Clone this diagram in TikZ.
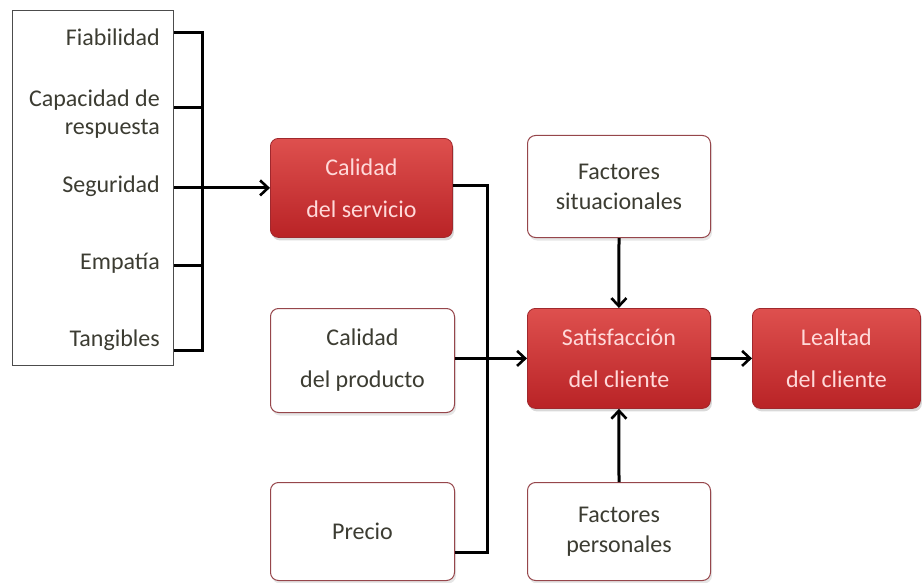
\documentclass[tikz,border=0pt]{standalone}
\usepackage{fontspec}
\setmainfont{Carlito}
\usetikzlibrary{arrows.meta,shadows}
\definecolor{redtop}{RGB}{222,80,78}
\definecolor{redbot}{RGB}{185,35,38}
\definecolor{rededge}{RGB}{160,40,45}
\definecolor{whiteedge}{RGB}{150,70,75}
\definecolor{txt}{RGB}{60,60,50}
\begin{document}
\begin{tikzpicture}[x=1pt,y=-1pt,
  redbox/.style={draw=rededge,line width=0.8pt,rounded corners=8pt,top color=redtop,bottom color=redbot,
    text=white!85!red,align=center,font=\fontsize{24}{42}\selectfont,inner sep=0pt,
    drop shadow={shadow xshift=1.5pt,shadow yshift=-3pt,opacity=0.3}},
  wbox/.style={draw=whiteedge,line width=1pt,rounded corners=8pt,fill=white,text=txt,align=center,
    font=\fontsize{24}{42}\selectfont,inner sep=0pt,
    drop shadow={shadow xshift=1.5pt,shadow yshift=-3pt,opacity=0.2}},
  lbl/.style={text=txt,anchor=east,font=\fontsize{24}{20}\selectfont,inner sep=0pt},
  conn/.style={line width=3pt,black},
  arr/.style={conn,-{Straight Barb[length=8pt,width=15pt,line width=2.6pt]}}]
\useasboundingbox (0,0) rectangle (923,583);
% left box
\node[draw=black!70,line width=1pt,minimum width=161pt,minimum height=355pt,anchor=north west,inner sep=0pt] (dims) at (12,10) {};
\node[lbl] (fia) at (160,37) {Fiabilidad};
\node[lbl] (cap) at (160,100) {Capacidad de};
\node[lbl] (res) at (160,129) {respuesta};
\node[lbl] (seg) at (160,186) {Seguridad};
\node[lbl] (emp) at (160,263) {Empatía};
\node[lbl] (tan) at (160,340) {Tangibles};
% boxes
\node[redbox,minimum width=182pt,minimum height=99pt,anchor=north west] (cs) at (270,138) {Calidad\\del servicio};
\node[wbox,minimum width=184pt,minimum height=104pt,anchor=north west] (cp) at (270,308) {Calidad\\del producto};
\node[wbox,minimum width=184pt,minimum height=98pt,anchor=north west] (pr) at (270,482) {Precio};
\node[wbox,minimum width=183pt,minimum height=102pt,anchor=north west,font=\fontsize{24}{30}\selectfont] (fs) at (527,135) {Factores\\situacionales};
\node[redbox,minimum width=183pt,minimum height=100pt,anchor=north west] (sat) at (527,308) {Satisfacción\\del cliente};
\node[wbox,minimum width=183pt,minimum height=98pt,anchor=north west,font=\fontsize{24}{30}\selectfont] (fp) at (527,482) {Factores\\personales};
\node[redbox,minimum width=168pt,minimum height=100pt,anchor=north west] (lea) at (752,308) {Lealtad\\del cliente};
% bracket
\coordinate (bt) at (202,33);
\coordinate (bb) at (202,350);
\draw[conn] (dims.east |- 0,33) -- (bt) -- (bb) -- (dims.east |- 0,350);
\draw[conn] (dims.east |- 0,108) -- (202,108);
\draw[conn] (dims.east |- 0,265) -- (202,265);
\draw[arr] (dims.east |- cs.west) -- (cs.west);
% right bracket
\coordinate (rt) at (487,185);
\coordinate (rb) at (487,552);
\draw[conn] (cs.east |- rt) -- (rt) -- (rb) -- (pr.east |- rb);
\draw[arr] (cp.east |- sat.west) -- (sat.west);
\draw[arr] (fs.south) -- (sat.north);
\draw[arr] (fp.north) -- (sat.south);
\draw[arr] (sat.east) -- (lea.west);
\end{tikzpicture}
\end{document}
